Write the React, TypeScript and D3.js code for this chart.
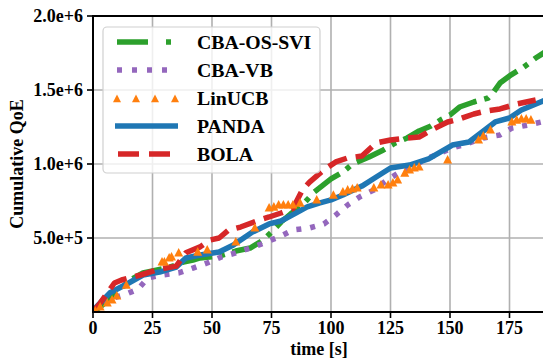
import React from 'react';
import * as d3 from 'd3';

// values in thousands
const greenT = [0, 3, 10, 15.5, 21, 27, 31, 35, 38, 42, 45, 53, 60, 66, 71, 75, 79, 83, 88, 93, 100, 105, 109, 116, 122, 127, 132, 137, 142, 146, 150, 154, 160, 166, 168, 171, 175, 181, 186, 190];
const greenV = [0, 34, 128, 216, 264, 284, 297, 318, 338, 351, 365, 378, 412, 432, 480, 540, 608, 662, 723, 811, 899, 946, 1000, 1047, 1095, 1142, 1176, 1223, 1257, 1297, 1331, 1385, 1419, 1446, 1480, 1547, 1595, 1655, 1716, 1757];

const purpleT = [0, 3, 5, 13, 19, 23, 29, 36, 42, 48, 54, 60, 66, 72, 79, 84, 91, 97, 102, 107, 112, 118, 123, 129, 134, 140, 146, 151, 158, 164, 171, 176, 183, 190];
const purpleV = [0, 34, 81, 115, 155, 230, 250, 264, 297, 331, 372, 399, 432, 466, 514, 554, 568, 595, 655, 723, 777, 824, 885, 946, 980, 1034, 1074, 1108, 1142, 1176, 1196, 1243, 1264, 1290];

const orangeT = [1, 3, 6, 8, 10, 14, 29, 30, 32, 33, 36, 44, 48, 60, 68, 74, 76, 78, 80, 82, 84, 87, 94, 101, 105, 107, 109, 111, 118, 121, 124, 126, 128, 131, 133, 135, 137, 149, 162, 164, 167, 176, 178, 180, 182, 184];
const orangeV = [7, 34, 61, 81, 108, 182, 338, 338, 365, 372, 399, 405, 419, 473, 568, 703, 709, 723, 723, 723, 723, 736, 757, 790, 811, 824, 831, 838, 838, 858, 858, 872, 892, 939, 960, 973, 980, 1027, 1162, 1189, 1230, 1284, 1297, 1304, 1304, 1297];

const blueT = [0, 1, 7, 15, 21, 28, 35, 39, 45, 53, 59, 67, 74, 79, 86, 90, 95, 100, 105, 113, 119, 125, 133, 141, 151, 158, 169, 175, 180, 190];
const blueV = [0, 27, 128, 196, 250, 270, 304, 365, 385, 405, 453, 540, 595, 615, 675, 710, 736, 757, 790, 851, 912, 973, 993, 1034, 1128, 1149, 1284, 1311, 1365, 1432];

const redT = [0, 3, 9, 12, 20, 28, 35, 39, 45, 49, 53, 57, 62, 70, 74, 79, 84, 88, 91, 97, 102, 107, 113, 119, 125, 132, 137, 143, 149, 154, 160, 165, 171, 178, 186];
const redV = [0, 60, 196, 216, 250, 290, 310, 400, 440, 486, 500, 554, 574, 622, 642, 669, 700, 825, 878, 960, 1014, 1041, 1054, 1142, 1162, 1176, 1182, 1236, 1284, 1304, 1338, 1358, 1372, 1405, 1432];

const xTicks = [0, 25, 50, 75, 100, 125, 150, 175];
const yTicks = [500000, 1000000, 1500000, 2000000];
const labels = ['CBA-OS-SVI', 'CBA-VB', 'LinUCB', 'PANDA', 'BOLA'];

const W = 543, H = 361;
const left = 93, right = 545.2, top = 16, bottom = 312;

const x = d3.scaleLinear().domain([0, 190]).range([left, right]);
const y = d3.scaleLinear().domain([0, 2000000]).range([bottom, top]);

const fmt = (d: number) => {
  const e = Math.floor(Math.log10(d));
  return `${(d / Math.pow(10, e)).toFixed(1)}e+${e}`;
};

const pts = (t: number[], v: number[]) => t.map((d, i) => [d, v[i] * 1000] as [number, number]);
const line = d3.line<[number, number]>().x(d => x(d[0])).y(d => y(d[1]));

const tri = (cx: number, cy: number, s = 9) =>
  `M${cx},${cy - s * 0.55} L${cx + s / 2},${cy + s * 0.4} L${cx - s / 2},${cy + s * 0.4} Z`;

const series = [
  { key: 'green', data: pts(greenT, greenV), color: '#2ca02c', dash: '31,8,5,8' },
  { key: 'purple', data: pts(purpleT, purpleV), color: '#9467bd', dash: '5,9' },
  { key: 'blue', data: pts(blueT, blueV), color: '#1f77b4', dash: 'none' },
  { key: 'red', data: pts(redT, redV), color: '#d62728', dash: '20,9' },
];

const txt: React.CSSProperties = {
  fontFamily: '"Liberation Serif", "Times New Roman", Tinos, "DejaVu Serif", serif',
  fontWeight: 700,
};

const App: React.FC = () => {
  const orange = pts(orangeT, orangeV);
  const legendRows = [42, 70, 98, 126, 154];
  return (
    <div style={{ position: 'absolute', left: 0, top: 0 }}>
      <svg width={W} height={H} style={{ display: 'block' }}>
        <defs>
          <clipPath id="plot">
            <rect x={left} y={top} width={right - left} height={bottom - top} />
          </clipPath>
        </defs>
        {/* grid */}
        {xTicks.map(t => (
          <line key={'gx' + t} x1={x(t)} x2={x(t)} y1={top} y2={bottom} stroke="#b0b0b0" strokeWidth={1.6} />
        ))}
        {yTicks.map(t => (
          <line key={'gy' + t} x1={left} x2={right} y1={y(t)} y2={y(t)} stroke="#b0b0b0" strokeWidth={1.6} />
        ))}
        <g clipPath="url(#plot)">
          {series.map(s => (
            <path key={s.key} d={line(s.data) || ''} fill="none" stroke={s.color} strokeWidth={5.5}
              strokeDasharray={s.dash} strokeLinejoin="round" />
          ))}
          {orange.map((d, i) => (
            <path key={'o' + i} d={tri(x(d[0]), y(d[1]))} fill="#ff7f0e" />
          ))}
        </g>
        {/* spines */}
        <line x1={left} x2={left} y1={top} y2={bottom + 1} stroke="#000" strokeWidth={2} />
        <line x1={left - 1} x2={right} y1={bottom} y2={bottom} stroke="#000" strokeWidth={2} />
        <line x1={left - 1} x2={right} y1={top} y2={top} stroke="#000" strokeWidth={2} />
        {/* ticks */}
        {xTicks.map(t => (
          <g key={'xt' + t}>
            <line x1={x(t)} x2={x(t)} y1={bottom} y2={bottom + 6} stroke="#000" strokeWidth={1.6} />
            <text x={x(t)} y={bottom + 22} textAnchor="middle" fontSize={18} style={txt}>{t}</text>
          </g>
        ))}
        {yTicks.map(t => (
          <g key={'yt' + t}>
            <line x1={left - 6} x2={left} y1={y(t)} y2={y(t)} stroke="#000" strokeWidth={1.6} />
            <text x={left - 10} y={y(t) + 6} textAnchor="end" fontSize={18} style={txt}>{fmt(t)}</text>
          </g>
        ))}
        <text x={(left + right) / 2} y={355} textAnchor="middle" fontSize={18} style={txt}>time [s]</text>
        <text transform={`translate(23,${(top + bottom) / 2}) rotate(-90)`} textAnchor="middle" fontSize={18} style={txt}>Cumulative QoE</text>
        {/* legend */}
        <rect x={103} y={27} width={217} height={146} rx={4} fill="#fff" fillOpacity={0.8} stroke="#d0d0d0" strokeWidth={1.2} />
        <line x1={117} x2={176} y1={legendRows[0]} y2={legendRows[0]} stroke="#2ca02c" strokeWidth={5.5} strokeDasharray="31,18,5,8" />
        <line x1={117} x2={176} y1={legendRows[1]} y2={legendRows[1]} stroke="#9467bd" strokeWidth={5.5} strokeDasharray="5,10" />
        {[117, 136, 155, 175].map(cx => (
          <path key={'lt' + cx} d={tri(cx, legendRows[2] + 1, 8)} fill="#ff7f0e" />
        ))}
        <line x1={115} x2={178} y1={legendRows[3]} y2={legendRows[3]} stroke="#1f77b4" strokeWidth={5.5} />
        <line x1={118} x2={172} y1={legendRows[4]} y2={legendRows[4]} stroke="#d62728" strokeWidth={5.5} strokeDasharray="21,10" />
        {labels.map((l, i) => (
          <text key={l} x={197} y={legendRows[i] + 7} fontSize={19.8} style={txt}>{l}</text>
        ))}
      </svg>
    </div>
  );
};

export default App;
